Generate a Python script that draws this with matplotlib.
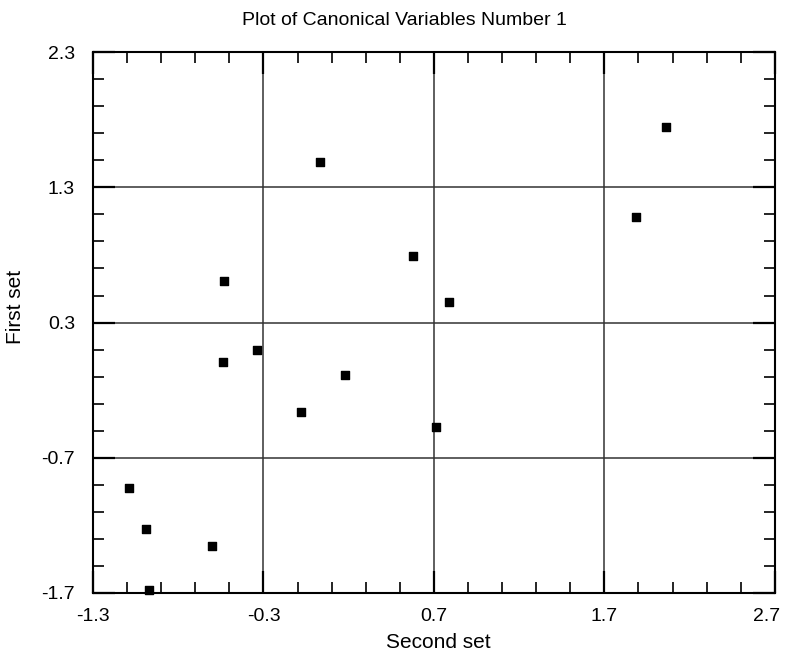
import numpy as np
import matplotlib
matplotlib.use("Agg")
import matplotlib.pyplot as plt
import matplotlib.transforms as mtransforms
from matplotlib.ticker import FixedLocator

# canonical variable scores
second_set = [2.06, 1.885, 0.03, 0.58, 0.79, -0.53, -0.54, -0.34, 0.18, -0.08, 0.71, -1.09, -0.99, -0.60, -0.97]
first_set = [1.75, 1.08, 1.49, 0.79, 0.45, 0.61, 0.01, 0.10, -0.09, -0.36, -0.47, -0.92, -1.23, -1.35, -1.68]

x_ticks = [-1.3, -0.3, 0.7, 1.7, 2.7]
y_ticks = [-1.7, -0.7, 0.3, 1.3, 2.3]

plt.rcParams['font.family'] = ['Liberation Sans', 'DejaVu Sans']

fig = plt.figure(figsize=(7.85, 6.52), dpi=100)
ax = fig.add_axes([0.1185, 0.0905, 0.8685, 0.8295])

ax.scatter(second_set, first_set, marker='s', s=30, color='black', zorder=3, clip_on=False)

ax.set_xlim(-1.3, 2.7)
ax.set_ylim(-1.7, 2.3)
ax.xaxis.set_major_locator(FixedLocator(x_ticks))
ax.yaxis.set_major_locator(FixedLocator(y_ticks))
ax.set_xticklabels([f"{v:.1f}" for v in x_ticks])
ax.set_yticklabels([f"{v:.1f}" for v in y_ticks])
ax.xaxis.set_minor_locator(FixedLocator(np.arange(-1.3, 2.71, 0.2)))
ax.yaxis.set_minor_locator(FixedLocator(np.arange(-1.7, 2.31, 0.2)))

ax.grid(True, which='major', color='#333333', linewidth=1.1)
ax.tick_params(which='both', direction='in', top=True, right=True, color='black', labelsize=14)
ax.tick_params(axis='x', which='major', length=16, width=1.6, pad=11)
ax.tick_params(axis='y', which='major', length=16, width=1.6, pad=13)
ax.tick_params(which='minor', length=8, width=1.2)
for s in ax.spines.values():
    s.set_linewidth(1.5)
    s.set_color('black')

# last x label sits a little left so it stays inside the picture
last = ax.get_xticklabels()[-1]
last.set_transform(last.get_transform() + mtransforms.ScaledTranslation(-6/72, 0, fig.dpi_scale_trans))

ax.set_xlabel("Second set", fontsize=15)
ax.xaxis.set_label_coords(0.507, -0.074)
ax.set_ylabel("First set", fontsize=15)
ax.yaxis.set_label_coords(-0.1, 0.529)
fig.text(0.515, 0.969, "Plot of Canonical Variables Number 1", fontsize=14,
         ha='center', va='center')

fig.savefig("out.png", dpi=100)
